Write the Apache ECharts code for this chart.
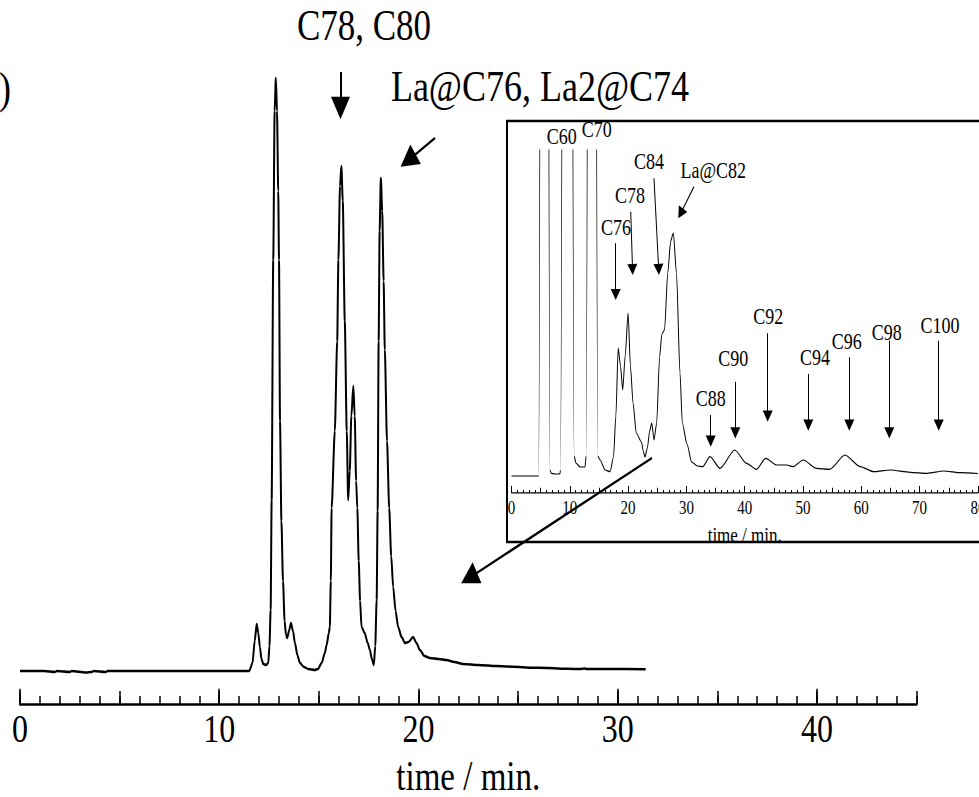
<!DOCTYPE html>
<html>
<head>
<meta charset="utf-8">
<script src="https://cdn.jsdelivr.net/npm/echarts@6/dist/echarts.min.js"></script>
<style>
html,body{margin:0;padding:0;background:#fff;width:979px;height:797px;}
#wrap{width:979px;height:797px;position:relative;}
#chart{position:absolute;left:0;top:0;width:979px;height:638px;transform:scaleY(1.249216);transform-origin:0 0;}
</style>
</head>
<body>
<div id="wrap"><div id="chart"></div></div>
<script>
// ---------- data ----------
// main chromatogram (time in min, detector signal in arbitrary units)
const mainTime = [0,1.2,1.75,1.85,2.5,2.6,3.3,3.6,3.7,4.3,4.4,11.5,11.67,11.78,11.88,11.96,12.04,12.12,12.21,12.35,12.46,12.52,12.58,12.63,12.71,12.78,12.84,12.9,12.96,13.0,13.05,13.12,13.2,13.28,13.35,13.41,13.5,13.6,13.7,13.8,13.92,14.05,14.25,14.47,14.8,14.95,15.14,15.3,15.39,15.5,15.55,15.6,15.64,15.8,15.92,15.98,16.06,16.13,16.2,16.3,16.4,16.47,16.55,16.63,16.73,16.8,16.87,16.93,17.0,17.07,17.14,17.3,17.45,17.56,17.66,17.76,17.83,17.9,17.95,18.0,18.05,18.11,18.18,18.25,18.31,18.42,18.53,18.63,18.73,18.85,18.98,19.15,19.32,19.5,19.73,19.9,20.07,20.3,20.57,21.0,21.4,21.8,22.24,23.0,23.92,24.5,25.6,26.5,27.5,28.1,28.35,28.45,29.5,31.4];
const mainSignal = [0,0,-1,0,-1,0,-1.5,-1,0,-1,0,0,8,30,47,38,24,12,7,6,8,25,61,171,411,560,593,560,480,411,250,150,90,50,36,33,40,48,40,28,16,8,4,2,1,2,8,18,26,38,44,90,163,240,330,411,485,505,470,350,240,171,200,255,285,255,190,163,110,70,44,38,28,21,12,6,25,71,160,330,440,493,460,390,321,230,163,115,84,60,44,34,28,29,34,28,21,15,13,12,11,9,7,6,5,4.5,3.3,3,2.2,2,2.5,2,2,1.7];

// inset chromatogram (0-80 min); the early peaks run off the top of the inset
const insetTime = [0,4.66,5.65,6.6,6.8,7.5,8.3,8.4,9.6,10.75,11.06,11.75,12.6,12.8,13.8,14.8,15.2,16.06,16.9,17.5,17.9,18.3,18.7,19.07,19.5,20.0,20.4,20.85,21.4,22.3,22.6,22.9,23.3,23.7,24.05,24.45,24.9,25.4,25.8,26.25,26.8,27.3,27.76,28.3,28.9,29.3,30.1,30.9,31.9,32.8,34.05,35.77,38.3,40.3,42.0,43.6,45.5,47.2,48.3,50.05,52.3,54.6,57.2,59.8,62.1,65.0,68.4,71.3,74.1,77.0,80];
const insetSignal = [0,0,2500,6,2.7,2,2,6,2500,20,13,9,9,20,2500,20,16,6,4.3,19,60,128,110,86,120,163,110,73,43,34,25,19,28,45,53,36,53,119,142,146,203,235,243,203,103,53,32,14,10,9.3,19.3,7.7,26,12.7,6.7,17.7,11,11,9.3,16,7.7,6.7,21,9.3,4.3,6,3.7,2.7,5,3.3,2.5];

// tick labels
const mainTickLabels = [0,10,20,30,40];
const insetTickLabels = [0,10,20,30,40,50,60,70,80];

// peak annotations of the inset (arrow tail -> arrow head, in inset data units)
const insetNames = ['C76','C78','C84','La@C82','C88','C90','C92','C94','C96','C98','C100'];
const insetArrowTail = [[17.87,232.7],[20.45,264.3],[24.44,297.7],[31.3,289.3],[34.17,61],[38.39,94.3],[43.94,142.7],[50.91,102],[57.94,118.7],[64.8,135.3],[73.28,135.3]];
const insetArrowHead = [[17.87,181.5],[20.76,206.5],[25.25,206.5],[29.02,262.6],[34.17,34.8],[38.39,43.2],[43.94,59.8],[50.91,50.8],[57.94,50.8],[64.8,43.2],[73.28,50.8]];
const insetPeakLabels = ['C60','C70'];

// main annotations (main data units)
const mainNames = ['C78, C80','La@C76, La2@C74'];
const mainArrowTail = [[16.085,599],[20.83,533],[31.72,213]];
const mainArrowHead = [[16.085,563],[19.48,510.5],[22.54,93]];

// ---------- layout helpers ----------
const K = 797/638;            // vertical stretch of the reference picture
const Y = py => py / K;
const FONT = 'Liberation Serif, Times New Roman, serif';

const chart = echarts.init(document.getElementById('chart'), null, {renderer:'svg', width:979, height:638});

function pairs(xs, ys){ return xs.map((x,i)=>[x, ys[i]]); }
function arrowData(tails, heads){ return tails.map((t,i)=>[{coord:t},{coord:heads[i]}]); }

const textPos = {
  'C78, C80':[364,26,35], 'La@C76, La2@C74':[540,86,36], ')':[5,88,36],
  'C60':[561.7,136.7,18], 'C70':[596.7,129,18], 'C84':[649,161.7,18], 'La@C82':[713.3,170,18],
  'C78':[630,195,18], 'C76':[616,227.7,18], 'C88':[710.7,398.3,18], 'C90':[733.3,358.3,18],
  'C92':[768.3,316.7,18], 'C94':[815,357.3,18], 'C96':[846.7,341.7,18], 'C98':[886.7,332.7,18],
  'C100':[940,325,18]
};
const allTexts = [...mainNames, ')', ...insetPeakLabels, ...insetNames];
const graphics = allTexts.map(s => {
  const p = textPos[s];
  return {type:'text', x:p[0], y:Y(p[1]), silent:true, z:10,
    style:{text:s, fill:'#000', font:p[2]+'px '+FONT, align:'center', verticalAlign:'middle', textAlign:'center', textVerticalAlign:'middle'}};
});
graphics.push({type:'rect', silent:true, z:5, shape:{x:507, y:Y(121), width:520, height:Y(542)-Y(121)},
  style:{fill:'none', stroke:'#000', lineWidth:2}});

const blk = '#000';
function tickAxis(grid, min, max, interval, len, width){
  return {type:'value', gridIndex:grid, min:min, max:max, interval:interval, position:'bottom', offset:0,
    axisLine:{show:false, onZero:false}, axisLabel:{show:false}, splitLine:{show:false},
    axisTick:{show:true, inside:true, length:len, lineStyle:{color:blk, width:width}}};
}

const option = {
  animation:false,
  backgroundColor:'#fff',
  grid:[
    {left:20, right:62.4, top:Y(60), bottom:(797-704)/K, containLabel:false, outerBoundsMode:'none'},
    {left:511.5, right:1.1, top:Y(150), bottom:(797-492.7)/K, containLabel:false, outerBoundsMode:'none'}
  ],
  xAxis:[
    {type:'value', gridIndex:0, min:0, max:45, interval:5, position:'bottom',
     axisLine:{show:true, onZero:false, lineStyle:{color:blk, width:2}},
     axisTick:{show:true, inside:true, length:12.3, customValues:mainTickLabels, lineStyle:{color:blk, width:1.5}},
     axisLabel:{show:true, customValues:mainTickLabels, color:blk, fontFamily:FONT, fontSize:32, margin:4},
     splitLine:{show:false},
     name:'time / min.', nameLocation:'middle', nameGap:40,
     nameTextStyle:{color:blk, fontFamily:FONT, fontSize:33}},
    tickAxis(0,0,45,1,6.5,1.5),
    tickAxis(0,0,45,5,10.4,1.5),
    {type:'value', gridIndex:1, min:0, max:80, interval:10, position:'bottom',
     axisLine:{show:true, onZero:false, lineStyle:{color:blk, width:1}},
     axisTick:{show:true, inside:true, length:5.3, lineStyle:{color:blk, width:1}},
     axisLabel:{show:true, color:blk, fontFamily:FONT, fontSize:15, margin:5, formatter:v=>String(v)},
     splitLine:{show:false},
     name:'time / min.', nameLocation:'middle', nameGap:25,
     nameTextStyle:{color:blk, fontFamily:FONT, fontSize:17}},
    tickAxis(1,0,80,1,2.2,1),
    tickAxis(1,0,80,5,4,1)
  ],
  yAxis:[
    {type:'value', gridIndex:0, min:-33, max:611, show:false, splitLine:{show:false}},
    {type:'value', gridIndex:1, min:-16.7, max:326, show:false, splitLine:{show:false}}
  ],
  series:[
    {type:'line', xAxisIndex:0, yAxisIndex:0, data:pairs(mainTime, mainSignal),
     symbol:'none', smooth:0.25, smoothMonotone:'x', silent:true, clip:true,
     lineStyle:{color:blk, width:2},
     markLine:{silent:true, symbol:['none','triangle'], symbolSize:[19,18],
       label:{show:false}, lineStyle:{color:blk, width:2, type:'solid'},
       data:arrowData(mainArrowTail, mainArrowHead)}},
    {type:'line', xAxisIndex:3, yAxisIndex:1, data:pairs(insetTime, insetSignal),
     symbol:'none', smooth:0.25, smoothMonotone:'x', silent:true, clip:true,
     lineStyle:{color:blk, width:1},
     markLine:{silent:true, symbol:['none','triangle'], symbolSize:[10,9],
       label:{show:false}, lineStyle:{color:blk, width:1, type:'solid'},
       data:arrowData(insetArrowTail, insetArrowHead)}}
  ],
  graphic:graphics
};
chart.setOption(option);
</script>
</body>
</html>
